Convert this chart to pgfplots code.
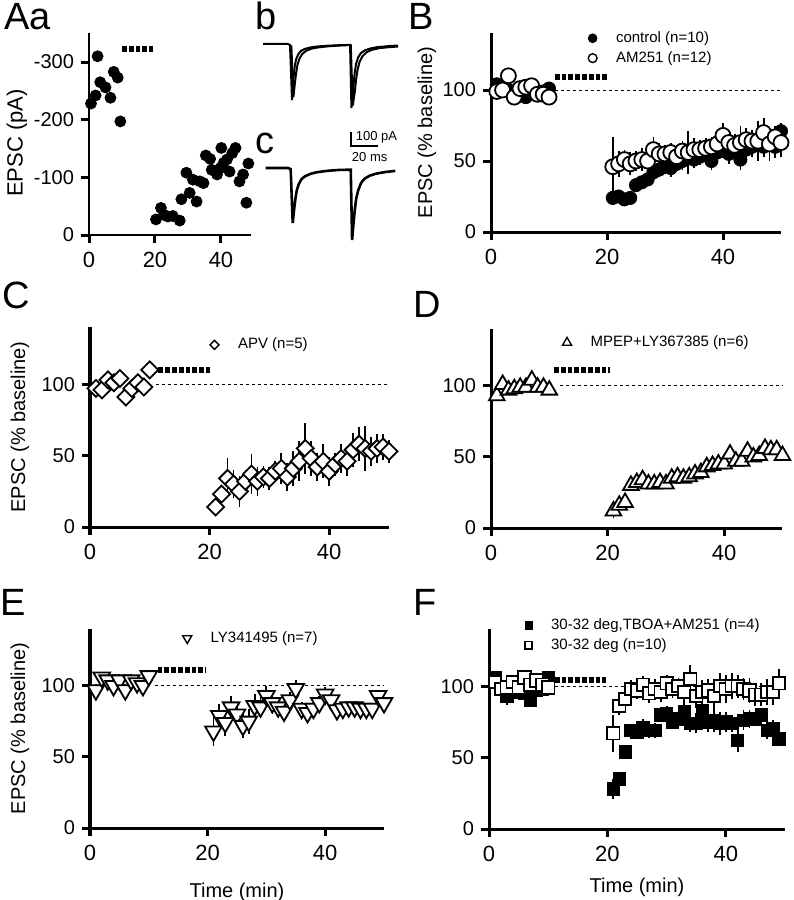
\documentclass[border=0pt]{standalone}
\usepackage{fontspec}
\setmainfont{Liberation Sans}
\usepackage{pgfplots}
\pgfplotsset{compat=1.18}

\pgfplotsset{
  panel/.style={
    scale only axis, clip=false,
    axis x line=bottom, axis y line=left,
    axis line style={-, line width=1.5pt, black},
    x axis line style={shorten <=-4pt},
    tick style={line width=1.5pt, black},
    tick align=outside, major tick length=4pt,
    xmin=0, xmax=50, ymin=0, ymax=140,
    xtick={0,20,40}, ytick={0,50,100},
    yticklabel style={font=\fontsize{10}{11}\selectfont},
    xticklabel style={font=\fontsize{11}{12}\selectfont, yshift=-1pt},
    label style={font=\fontsize{10}{11}\selectfont},
    ylabel style={at={(rel axis cs:0,0.5)}, anchor=center, yshift=35pt},
    xlabel style={at={(rel axis cs:0.5,0)}, anchor=center, yshift=-32pt},
    /pgf/number format/assume math mode=true,
    legend cell align=left,
    legend style={draw=none, fill=none, font=\fontsize{7.5}{9}\selectfont,
      anchor=north west, inner sep=0pt, row sep=1pt, column sep=8.5pt,
      nodes={inner sep=1pt}},
    legend image code/.code={\draw[#1] plot coordinates {(0.15cm,0cm)};},
  },
  eb/.style={error bars/.cd, y dir=both, y explicit, error mark=none,
    error bar style={line width=0.9pt, black, solid}},
  base/.style={forget plot, dash pattern=on 1.5pt off 1.5pt, line width=0.4pt, black},
  puff/.style={forget plot, line width=3pt, dash pattern=on 2.4pt off 1pt, black},
}

\begin{document}
\begin{tikzpicture}
\path[use as bounding box] (0,0) rectangle (396.5pt,-450pt);

% panel letters
\begin{scope}[every node/.style={anchor=base west, inner sep=0pt, font=\fontsize{19}{19}\selectfont}]
\node at (2pt,-14.5pt) {Aa};
\node at (127.5pt,-14.5pt) {b};
\node at (127.5pt,-76.5pt) {c};
\node at (204pt,-14.5pt) {B};
\node at (1pt,-154pt) {C};
\node at (206.5pt,-158.5pt) {D};
\node at (0pt,-307.5pt) {E};
\node at (206.5pt,-307.5pt) {F};
\end{scope}

% ---- Aa: single cell EPSC amplitude
\begin{axis}[panel, at={(44.5pt,-117.5pt)}, anchor=south west,
  width=80.85pt, height=100.9pt,
  axis line style={-, line width=1.3pt},
  xmin=0, xmax=49, ymin=-350, ymax=0, y dir=reverse,
  ytick={-300,-200,-100,0}, yticklabels={-300,-200,-100,0},
  ylabel={EPSC (pA)},
  ylabel style={yshift=1pt, xshift=-4.5pt, font=\fontsize{11}{12}\selectfont}]
\addplot[puff] coordinates {(10,-323) (19.5,-323)};
\addplot[only marks, mark=*, mark size=2.75pt, black] coordinates {
  (0.6,-228) (2,-242) (2.6,-310) (3.4,-265) (5,-256) (6.5,-238)
  (7.5,-283) (8.7,-273) (9.5,-197)
  (20.3,-27) (21.8,-47) (22.7,-35) (23.9,-32) (25.4,-33) (27.5,-25)
  (28,-62) (29.5,-108) (30.5,-73) (31.5,-96) (32.6,-58) (33.6,-93)
  (34.7,-90) (35.4,-138) (36.7,-132) (37.2,-113) (38.8,-105) (39.8,-116)
  (40.1,-151) (40.8,-125) (41.8,-131) (42.6,-110) (43.4,-142) (44.4,-151)
  (45.6,-93) (46.7,-105) (47.7,-56) (48.3,-124)
};
\end{axis}

% ---- b: traces
\begin{axis}[hide axis, scale only axis, clip=false, at={(131.5pt,-57pt)},
  anchor=south west, width=67.5pt, height=38.5pt,
  xmin=0, xmax=100, ymin=-500, ymax=50]
\addplot[black, line width=1pt] coordinates {
  (0,0) (18.5,0) (20,-8) (21.5,-400) (22.5,-250) (23.5,-160) (24.5,-110)
  (26,-75) (28,-50) (31,-35) (35,-25) (40,-18) (48,-12) (58,-8) (64.5,-6)
  (65.5,-457) (67,-300) (68,-200) (69,-140) (70.5,-95) (72.5,-65)
  (75.5,-45) (79.5,-32) (85,-22) (93,-15) (100,-11)
};
\addplot[black, line width=1pt] coordinates {
  (21,-10) (22.5,-380) (23.5,-290) (24.5,-210) (25.5,-150) (27,-105)
  (29,-72) (32,-48) (36,-33) (41,-24) (49,-16) (58,-10) (65,-8)
  (66.5,-440) (68,-340) (69,-250) (70,-185) (71.5,-130) (73.5,-90)
  (76.5,-60) (80.5,-42) (86,-30) (94,-22) (100,-18)
};
% scale bar
\addplot[black, line width=0.6pt] coordinates {(65.2,-629) (65.2,-729) (85.2,-729)};
\node[anchor=west, inner sep=0pt, font=\fontsize{6.5}{7}\selectfont] at (axis cs:68.5,-665) {100 pA};
\node[anchor=center, inner sep=0pt, font=\fontsize{6.5}{7}\selectfont] at (axis cs:79,-810) {20 ms};
\end{axis}

% ---- c: traces
\begin{axis}[hide axis, scale only axis, clip=false, at={(131.5pt,-121.1pt)},
  anchor=south west, width=67.5pt, height=40.6pt,
  xmin=0, xmax=100, ymin=-530, ymax=50]
\addplot[black, line width=1.3pt] coordinates {
  (2,0) (18.5,0) (20.5,-8) (22,-393) (23,-300) (24,-220) (25,-160)
  (26.5,-115) (28.5,-80) (31,-60) (35,-42) (40,-30) (48,-20) (56,-14)
  (65,-12) (66,-514) (67,-400) (68,-300) (69,-220) (70.5,-160)
  (72.5,-110) (75,-78) (79,-55) (84,-40) (91,-28) (98,-21)
};
\end{axis}

% ---- B: control vs AM251
\begin{axis}[panel, at={(245.5pt,-116pt)}, anchor=south west,
  width=145pt, height=99.4pt, ylabel={EPSC (\% baseline)},
  ylabel style={yshift=-3pt},
  legend style={at={(axis cs:16.7,143)}}]
\addplot[base] coordinates {(11,100) (50,100)};
\addplot[puff] coordinates {(11,109) (20.3,109)};
\addplot[forget plot, only marks, mark=*, mark size=3.3pt, black, eb]
  table[y error=e] {
x y e
1 104 3
2 101 3
3 100 3
4 97 4
5 96 4
6 95 4
7 100 3
8 99 3
9 99 3
10 101 3
21 24 4
22 25 3
23 23 3
24 24 3
25 33 4
26 35 4
27 37 4
28 42 5
29 44 5
30 46 5
31 45 6
32 48 5
33 50 6
34 52 6
35 51 6
36 53 6
37 55 6
38 50 6
39 56 7
40 58 6
41 55 7
42 57 6
43 51 7
44 58 7
45 60 7
46 62 7
47 60 7
48 62 7
49 60 8
50 71 6
};
\addplot[forget plot, only marks, mark=*, mark size=3.75pt, black,
  mark options={fill=white, line width=0.9pt}, eb]
  table[y error=e] {
x y e
1 99 3
2 100 3
3 110 4
4 95 4
5 101 3
6 102 4
7 103 3
8 97 3
9 97 3
10 95 3
21 46 21
22 48 9
23 51 7
24 48 8
25 50 7
26 51 8
27 50 8
28 58 9
29 55 8
30 55 6
31 56 7
32 53 8
33 57 7
34 56 15
35 58 8
36 58 7
37 59 7
38 60 7
39 62 7
40 68 9
41 63 8
42 61 8
43 63 12
44 65 8
45 64 8
46 64 14
47 70 10
48 62 12
49 67 8
50 63 10
};
\addlegendimage{only marks, mark=*, mark size=2.2pt, black}
\addlegendentry{control (n=10)}
\addlegendimage{only marks, mark=*, mark size=2.2pt, black, mark options={fill=white, line width=0.7pt}}
\addlegendentry{AM251 (n=12)}
\end{axis}

% ---- C: APV
\begin{axis}[panel, at={(45pt,-263.5pt)}, anchor=south west,
  width=149.5pt, height=100pt, ylabel={EPSC (\% baseline)},
  legend style={at={(axis cs:20,134)}}]
\addplot[base] coordinates {(11,100) (50,100)};
\addplot[puff] coordinates {(10.3,109.6) (20,109.6)};
\addplot[forget plot, only marks, mark=square*, mark size=3pt, black,
  mark options={rotate=45, fill=white, line width=0.9pt}, eb]
  table[y error=e] {
x y e
1 97 3
2 96 3
3 103 3
4 101 3
5 104 3
6 91 4
7 97 4
8 101 4
9 98 4
10 110 3
21 14 3
22 23 5
23 34 14
24 30 10
25 25 11
26 32 8
27 37 14
28 32 10
29 35 8
30 34 8
31 39 7
32 41 11
33 35 10
34 41 12
35 46 14
36 55 18
37 48 12
38 42 10
39 46 12
40 39 10
41 44 8
42 48 10
43 46 10
44 54 12
45 58 12
46 55 16
47 53 10
48 55 10
49 56 9
50 53 8
};
\addlegendimage{only marks, mark=square*, mark size=1.6pt, black, mark options={rotate=45, fill=white, line width=0.7pt}}
\addlegendentry{APV (n=5)}
\end{axis}

% ---- D: MPEP + LY367385
\begin{axis}[panel, at={(245.5pt,-264pt)}, anchor=south west,
  width=145.75pt, height=99.5pt,
  legend style={at={(axis cs:12.2,137)}}]
\addplot[base] coordinates {(11.8,100) (50,100)};
\addplot[puff] coordinates {(10.8,111) (20.4,111)};
\addplot[forget plot, only marks, mark=triangle*, mark size=4.5pt, black,
  mark options={fill=white, line width=0.9pt}, eb]
  table[y error=e] {
x y e
1 93 2
2 101 2
3 97 2
4 98 2
5 99 2
6 99 2
7 104 2
8 99 2
9 99 2
10 97 2
21 12 5
22 16 3
23 18 3
24 30 3
25 32 3
26 34 3
27 31 3
28 31 3
29 32 3
30 31 3
31 35 3
32 36 3
33 35 3
34 36 3
35 38 3
36 39 3
37 43 3
38 44 3
39 45 3
40 45 3
41 52 3
42 47 3
43 47 3
44 54 3
45 50 3
46 51 3
47 56 3
48 55 3
49 55 3
50 51 3
};
\addlegendimage{only marks, mark=triangle*, mark size=2.6pt, black, mark options={fill=white, line width=0.7pt}}
\addlegendentry{MPEP+LY367385 (n=6)}
\end{axis}

% ---- E: LY341495
\begin{axis}[panel, at={(45pt,-414pt)}, anchor=south west,
  width=147pt, height=99.5pt, ylabel={EPSC (\% baseline)},
  xlabel={Time (min)},
  legend style={at={(axis cs:15.7,140)}}]
\addplot[base] coordinates {(11,100) (50,100)};
\addplot[puff] coordinates {(11.5,111) (19.8,111)};
\addplot[forget plot, only marks, mark=triangle*, mark size=4.8pt, black,
  mark options={rotate=180, fill=white, line width=0.9pt}, eb]
  table[y error=e] {
x y e
1 97 4
2 106 4
3 104 4
4 100 4
5 104 4
6 97 4
7 104 4
8 102 3
9 100 3
10 107 3
21 68 10
22 79 8
23 74 9
24 85 8
25 80 8
26 72 9
27 75 9
28 86 8
29 85 7
30 93 7
31 88 7
32 85 6
33 82 6
34 90 6
35 98 6
36 84 5
37 81 5
38 84 5
39 88 5
40 94 5
41 90 5
42 83 5
43 84 4
44 85 4
45 85 4
46 84 4
47 84 4
48 84 4
49 93 4
50 88 4
};
\addlegendimage{only marks, mark=triangle*, mark size=2.6pt, black, mark options={rotate=180, fill=white, line width=0.7pt}}
\addlegendentry{LY341495 (n=7)}
\end{axis}

% ---- F: 30-32 deg
\begin{axis}[panel, at={(244.5pt,-414.5pt)}, anchor=south west,
  width=148pt, height=100pt, xlabel={Time (min)},
  xlabel style={yshift=3pt},
  legend style={at={(axis cs:6,149)}}]
\addplot[base] coordinates {(11.1,100) (50,100)};
\addplot[puff] coordinates {(11.1,104) (19.8,104)};
\addplot[forget plot, only marks, mark=square*, mark size=3.1pt, black, eb]
  table[y error=e] {
x y e
1 106 4
2 98 4
3 93 6
4 99 4
5 96 4
6 95 4
7 90 3
8 97 3
9 98 3
10 106 3
21 28 7
22 35 4
23 54 5
24 69 4
25 68 5
26 71 6
27 69 5
28 69 5
29 80 5
30 81 5
31 75 5
32 77 6
33 82 10
34 74 6
35 74 7
36 83 6
37 75 7
38 76 8
39 74 8
40 75 7
41 74 6
42 62 8
43 76 7
44 77 6
45 77 5
46 80 5
47 69 6
48 70 6
49 63 4
};
\addplot[forget plot, only marks, mark=square*, mark size=3.1pt, black,
  mark options={fill=white, line width=0.9pt}, eb]
  table[y error=e] {
x y e
1 103 4
2 98 4
3 99 4
4 103 4
5 99 4
6 106 4
7 101 4
8 104 4
9 101 4
10 99 4
21 67 13
22 86 6
23 91 6
24 98 6
25 97 6
26 101 6
27 95 7
28 98 7
29 96 7
30 102 6
31 98 6
32 100 6
33 96 7
34 105 10
35 93 8
36 96 8
37 97 8
38 93 10
39 100 9
40 98 10
41 100 9
42 100 8
43 98 8
44 97 9
45 94 8
46 94 8
47 96 9
48 96 9
49 102 10
};
\addlegendimage{only marks, mark=square*, mark size=1.8pt, black}
\addlegendentry{30-32 deg,TBOA+AM251 (n=4)}
\addlegendimage{only marks, mark=square*, mark size=1.8pt, black, mark options={fill=white, line width=0.7pt}}
\addlegendentry{30-32 deg (n=10)}
\end{axis}
\end{tikzpicture}
\end{document}
